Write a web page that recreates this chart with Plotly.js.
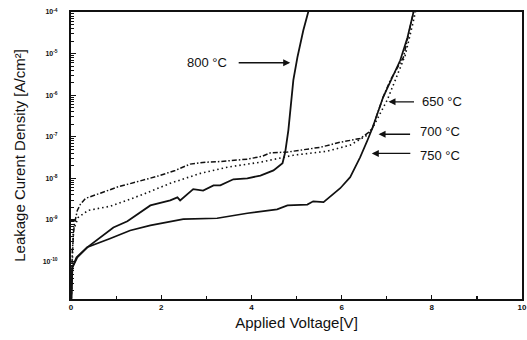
<!DOCTYPE html>
<html>
<head>
<meta charset="utf-8">
<script src="https://cdn.plot.ly/plotly-3.0.1.min.js"></script>
<style>
  html, body { margin: 0; padding: 0; background: #fff; }
  #chart { width: 527px; height: 340px; }
</style>
</head>
<body>
<div id="chart"></div>
<script>
// Leakage current density vs. applied voltage for four annealing temperatures
const volt650 = [0.007, 0.03, 0.07, 0.14, 0.21, 0.32, 0.65, 1.03, 1.43, 1.91, 2.31, 2.64, 2.98, 3.24, 3.91, 4.24, 4.42, 4.80, 5.53, 5.97, 6.41, 6.57, 6.68, 6.92, 7.08, 7.37, 7.52, 7.59, 7.62];
const curr650 = [1.55e-11, 1.86e-10, 7.4e-10, 1.7e-9, 2.4e-9, 3.3e-9, 4.4e-9, 6.2e-9, 8.1e-9, 1.12e-8, 1.55e-8, 2.2e-8, 2.45e-8, 2.5e-8, 2.9e-8, 3.4e-8, 4.1e-8, 4.3e-8, 5.6e-8, 7.4e-8, 9.1e-8, 1.2e-7, 1.58e-7, 8.9e-7, 2.3e-6, 8.1e-6, 4.3e-5, 1.0e-4, 1.3e-4];

const volt700 = [0.007, 0.03, 0.05, 0.16, 0.38, 0.87, 1.54, 2.20, 2.87, 3.47, 4.20, 4.93, 5.68, 6.19, 6.57, 6.68, 7.01, 7.19, 7.41, 7.57, 7.63, 7.66];
const curr700 = [1.32e-11, 1.07e-10, 5.6e-10, 1.15e-9, 1.7e-9, 2.14e-9, 3.9e-9, 7.6e-9, 1.32e-8, 1.86e-8, 2.45e-8, 3.6e-8, 4.5e-8, 6.3e-8, 1.1e-7, 1.58e-7, 7.6e-7, 2.3e-6, 9.1e-6, 4.8e-5, 1.0e-4, 1.3e-4];

const volt750 = [0.007, 0.02, 0.03, 0.12, 0.36, 0.87, 1.31, 1.76, 2.49, 3.24, 3.91, 4.57, 4.80, 5.24, 5.37, 5.60, 5.97, 6.19, 6.41, 6.57, 6.68, 6.92, 7.30, 7.46, 7.59, 7.62];
const curr750 = [1.23e-11, 4.7e-11, 7.2e-11, 1.26e-10, 2.2e-10, 3.6e-10, 5.6e-10, 7.4e-10, 1.05e-9, 1.1e-9, 1.45e-9, 1.8e-9, 2.24e-9, 2.34e-9, 2.8e-9, 2.7e-9, 5.8e-9, 1.07e-8, 3.2e-8, 8.1e-8, 1.58e-7, 8.9e-7, 6.9e-6, 2.45e-5, 1.0e-4, 1.3e-4];

const volt800 = [0.007, 0.02, 0.03, 0.14, 0.36, 0.94, 1.25, 1.76, 2.20, 2.36, 2.42, 2.71, 2.93, 3.16, 3.31, 3.60, 3.91, 4.20, 4.49, 4.69, 4.73, 4.75, 4.82, 4.93, 5.02, 5.15, 5.26, 5.29];
const curr800 = [1.23e-11, 4.7e-11, 7.2e-11, 1.26e-10, 2.2e-10, 6.6e-10, 9.3e-10, 2.24e-9, 2.95e-9, 3.5e-9, 2.95e-9, 5.5e-9, 5.1e-9, 6.8e-9, 6.8e-9, 9.5e-9, 1.0e-8, 1.17e-8, 1.55e-8, 2.3e-8, 4.0e-8, 4.3e-8, 1.45e-7, 2.3e-6, 8.1e-6, 3.6e-5, 1.0e-4, 1.3e-4];

const xTickVals = [0, 2, 4, 6, 8, 10];
const xMinorVals = [1, 3, 5, 7, 9];
const yTickVals = [1e-10, 1e-9, 1e-8, 1e-7, 1e-6, 1e-5, 1e-4];
const yTickText = ['10<sup>-10</sup>', '10<sup>-9</sup>', '10<sup>-8</sup>', '10<sup>-7</sup>', '10<sup>-6</sup>', '10<sup>-5</sup>', '10<sup>-4</sup>'];

const labels = ['650 °C', '700 °C', '750 °C', '800 °C'];

const black = '#111';

// minor ticks at 2..9 within each decade
const yMinorVals = [];
for (let e = -11; e < -4; e++) {
  for (let m = 2; m <= 9; m++) yMinorVals.push(m * Math.pow(10, e));
}

function curve(x, y, name, dash, w) {
  return {
    x: x, y: y, name: name, type: 'scatter', mode: 'lines',
    line: { color: black, width: w, dash: dash },
    showlegend: false
  };
}

const data = [
  curve(volt650, curr650, labels[0], '5px,2px,1.5px,2px', 1.5),
  curve(volt700, curr700, labels[1], '1.5px,3px', 1.6),
  curve(volt750, curr750, labels[2], 'solid', 1.7),
  curve(volt800, curr800, labels[3], 'solid', 1.8)
];

const fam = 'Liberation Sans, Arial, sans-serif';
const textFont = { family: fam, size: 13, color: black };

// annotation positions on a log axis are given as log10 exponents
function arrow(x, logy, ax) {
  return {
    x: x, y: logy, xref: 'x', yref: 'y', text: '',
    showarrow: true, arrowhead: 2, arrowsize: 1, arrowwidth: 1.4,
    arrowcolor: black, ax: ax, ay: 0, standoff: 0, startstandoff: 0
  };
}
function label(x, logy, txt) {
  return { x: x, y: logy, xref: 'x', yref: 'y', text: txt, showarrow: false, font: textFont };
}

const layout = {
  width: 527, height: 340,
  margin: { l: 71, r: 5, t: 12, b: 41 },
  paper_bgcolor: '#fff', plot_bgcolor: '#fff',
  font: { family: fam, color: black },
  xaxis: {
    range: [0, 10], tickmode: 'array', tickvals: xTickVals,
    ticks: 'inside', ticklen: 4, tickwidth: 1.3, tickcolor: black,
    minor: { tickmode: 'array', tickvals: xMinorVals, ticks: 'inside', ticklen: 3, tickwidth: 1.2, tickcolor: black },
    showgrid: false, zeroline: false,
    showline: true, linecolor: black, linewidth: 1.8, mirror: true,
    tickfont: { size: 8, family: fam, color: black, weight: 'bold' },
    title: { text: 'Applied Voltage[V]', font: { size: 15, color: black }, standoff: 6 }
  },
  yaxis: {
    type: 'log', range: [-10.9, -4],
    tickmode: 'array', tickvals: yTickVals, ticktext: yTickText,
    ticks: 'inside', ticklen: 5, tickwidth: 1.3, tickcolor: black,
    minor: { tickmode: 'array', tickvals: yMinorVals, ticks: 'inside', ticklen: 3, tickwidth: 1, tickcolor: black },
    showgrid: false, zeroline: false,
    showline: true, linecolor: black, linewidth: 2, mirror: true,
    ticklabelstandoff: 10,
    tickfont: { size: 7, family: fam, color: black, weight: 'bold' },
    title: { text: 'Leakage Curent Density [A/cm²]', font: { size: 15, color: black }, standoff: 13 }
  },
  annotations: [
    arrow(4.86, -5.22, -53), label(3.02, -5.21, labels[3]),
    arrow(7.04, -6.16, 27), label(8.23, -6.16, labels[0]),
    arrow(6.82, -6.94, 33), label(8.19, -6.88, labels[1]),
    arrow(6.67, -7.40, 40), label(8.19, -7.46, labels[2])
  ]
};

Plotly.newPlot('chart', data, layout, { staticPlot: true, displayModeBar: false });
</script>
</body>
</html>
